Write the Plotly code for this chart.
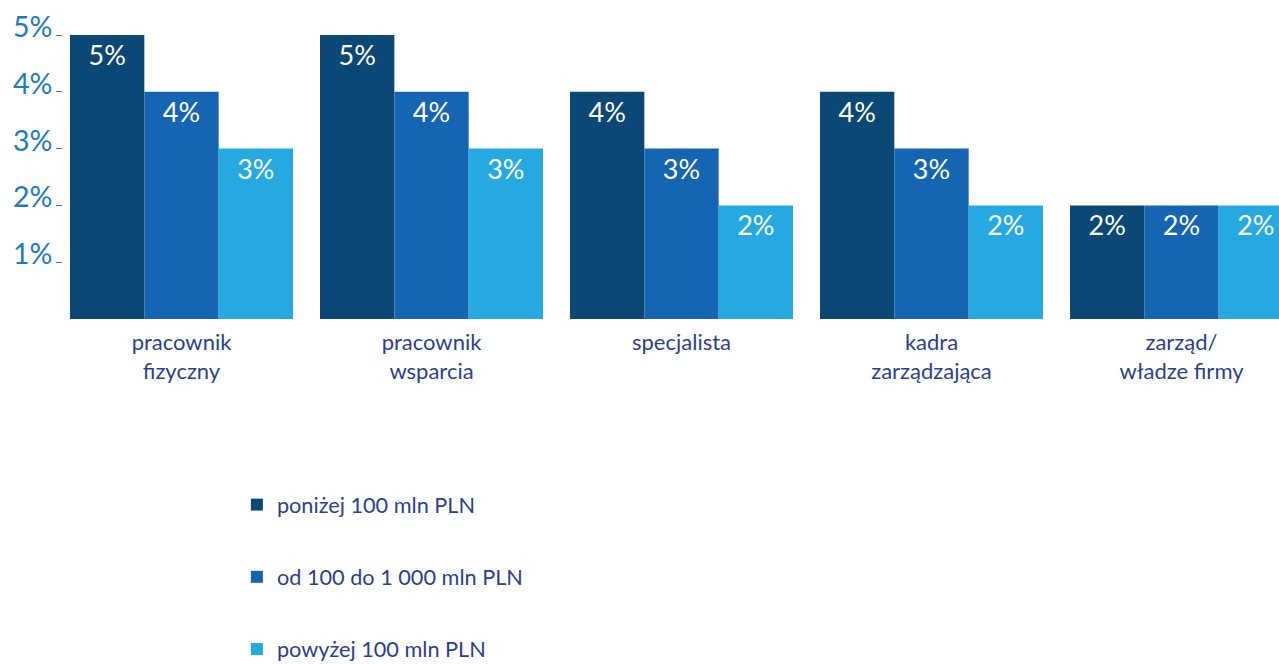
import plotly.graph_objects as go

categories = ["pracownik<br>fizyczny", "pracownik<br>wsparcia", "specjalista",
              "kadra<br>zarządzająca", "zarząd/<br>władze firmy"]
series_names = ["poniżej 100 mln PLN", "od 100 do 1 000 mln PLN", "powyżej 100 mln PLN"]
below_100 = [5, 5, 4, 4, 2]
from_100_to_1000 = [4, 4, 3, 3, 2]
above_100 = [3, 3, 2, 2, 2]
y_ticks = [1, 2, 3, 4, 5]
y_tick_labels = ["1%", "2%", "3%", "4%", "5%"]

colors = ["#0b4876", "#1565b2", "#25a9e0"]
FONT = "Lato, 'Open Sans', sans-serif"

fig = go.Figure()
for name, vals, col in zip(series_names, [below_100, from_100_to_1000, above_100], colors):
    fig.add_trace(go.Bar(
        x=categories, y=vals, name=name, marker=dict(color=col, line=dict(width=0)),
        text=[f"{v}%" for v in vals], texttemplate="%{text}",
        textposition="inside", insidetextanchor="end",
        textangle=0, textfont=dict(color="white", size=27, family=FONT),
        legendgroup=name,
    ))

fig.update_layout(
    width=1279, height=664,
    margin=dict(l=63, r=0, t=35, b=345, autoexpand=False),
    paper_bgcolor="white", plot_bgcolor="white",
    barmode="group", bargap=0.108, bargroupgap=0,
    font=dict(family=FONT),
    showlegend=True,
    legend=dict(
        x=0.143, xanchor="left", y=-0.581, yanchor="top",
        orientation="v", font=dict(size=21.7, color="#2b3f8e", family=FONT),
        tracegroupgap=41, bgcolor="rgba(0,0,0,0)",
    ),
    uniformtext=dict(minsize=27, mode="show"),
)
fig.update_xaxes(
    type="category", range=[-0.474, 4.39], showgrid=False, zeroline=False,
    showline=False, ticks="", tickfont=dict(size=22, color="#2b3f8e", family=FONT),
    ticklabelstandoff=8, automargin=False,
)
fig.update_yaxes(
    range=[0, 5], tickvals=y_ticks, ticktext=y_tick_labels, showgrid=False,
    zeroline=False, showline=False, ticks="outside", ticklen=6, tickwidth=1,
    tickcolor="#5a6aa8", tickfont=dict(size=28.5, color="#1e7ac0", family=FONT),
    ticklabelshift=-8, ticklabelstandoff=-2, automargin=False,
)

fig.write_html("out.html")
